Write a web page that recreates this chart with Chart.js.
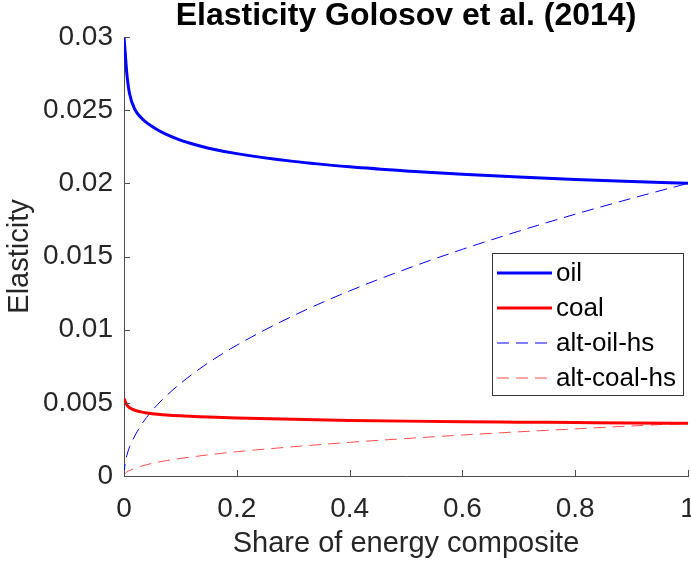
<!DOCTYPE html>
<html>
<head>
<meta charset="utf-8">
<script src="https://cdn.jsdelivr.net/npm/chart.js@4"></script>
<style>
  html, body { margin: 0; padding: 0; background: #fff; }
  #wrap { width: 691px; height: 567px; }
</style>
</head>
<body>
<div id="wrap"><canvas id="chart" width="691" height="567"></canvas></div>
<script>
// share of energy composite (x)
const shares = [0, 0.002, 0.005, 0.01, 0.02, 0.03, 0.04, 0.05, 0.06, 0.075, 0.1, 0.125, 0.15, 0.2, 0.3, 0.4, 0.5, 0.6, 0.7, 0.8, 0.9, 1];

const oil = [0.0300, 0.0290, 0.0275, 0.0261, 0.0250, 0.0245, 0.02415, 0.02388, 0.02364, 0.02334, 0.02295, 0.02265, 0.0224, 0.02203, 0.0215, 0.02113, 0.02085, 0.02062, 0.02043, 0.02027, 0.02013, 0.0200];
const coal = [0.0053, 0.0051, 0.00485, 0.00466, 0.00448, 0.00438, 0.00431, 0.00426, 0.00422, 0.00417, 0.00411, 0.00407, 0.00403, 0.00397, 0.00387, 0.0038, 0.00375, 0.00371, 0.00368, 0.00365, 0.00362, 0.0036];
const altOil = [0, 0.0009, 0.0014, 0.0020, 0.0028, 0.00346, 0.0040, 0.00447, 0.0049, 0.00548, 0.00632, 0.00707, 0.00775, 0.00894, 0.01095, 0.01265, 0.01414, 0.01549, 0.01673, 0.01789, 0.01897, 0.0200];
const altCoal = [0, 0.00017, 0.00027, 0.00038, 0.00054, 0.00066, 0.00077, 0.00087, 0.00095, 0.00105, 0.0012, 0.00133, 0.00145, 0.00166, 0.002, 0.0023, 0.00256, 0.0028, 0.00302, 0.00322, 0.00342, 0.0036];

const xTickLabels = ['0', '0.2', '0.4', '0.6', '0.8', '1'];
const yTickLabels = ['0', '0.005', '0.01', '0.015', '0.02', '0.025', '0.03'];

const pts = ys => shares.map((x, i) => ({ x: x, y: ys[i] }));
const FONT = "'Liberation Sans', Arial, Helvetica, sans-serif";
const AXIS = '#4d4d4d';
const TXT = '#262626';

// MATLAB style ticks pointing into the plot
const innerTicks = {
    id: 'innerTicks',
    afterDraw(chart) {
        const c = chart.ctx, a = chart.chartArea;
        const xs = chart.scales.x, ys = chart.scales.y;
        c.save();
        c.strokeStyle = AXIS;
        c.lineWidth = 1;
        c.beginPath();
        xs.ticks.forEach(t => {
            const p = Math.round(xs.getPixelForValue(t.value)) + 0.5;
            c.moveTo(p, a.bottom);
            c.lineTo(p, a.bottom - 6);
        });
        ys.ticks.forEach(t => {
            const p = Math.round(ys.getPixelForValue(t.value)) + 0.5;
            c.moveTo(a.left, p);
            c.lineTo(a.left + 6, p);
        });
        c.stroke();
        c.restore();
    }
};

// legend box inside the axes
const boxLegend = {
    id: 'boxLegend',
    afterDraw(chart) {
        const c = chart.ctx;
        const bx = 492, by = 253, bw = 191, bh = 142;
        c.save();
        c.fillStyle = '#fff';
        c.fillRect(bx, by, bw, bh);
        c.strokeStyle = '#333';
        c.lineWidth = 1;
        c.strokeRect(bx + 0.5, by + 0.5, bw, bh);
        c.font = '26px ' + FONT;
        c.textBaseline = 'middle';
        chart.data.datasets.forEach((ds, i) => {
            const y = by + 20 + i * 35;
            c.strokeStyle = ds.borderColor;
            c.lineWidth = ds.borderWidth;
            c.setLineDash(ds.borderDash || []);
            c.beginPath();
            c.moveTo(bx + 5, y);
            c.lineTo(bx + 60, y);
            c.stroke();
            c.setLineDash([]);
            c.fillStyle = '#000';
            c.fillText(ds.label, bx + 64, y + 1);
        });
        c.restore();
    }
};

new Chart(document.getElementById('chart'), {
    type: 'line',
    data: {
        datasets: [
            { label: 'oil', data: pts(oil), borderColor: '#0000ff', borderWidth: 3 },
            { label: 'coal', data: pts(coal), borderColor: '#ff0000', borderWidth: 3 },
            { label: 'alt-oil-hs', data: pts(altOil), borderColor: '#0000ff', borderWidth: 1, borderDash: [12, 7] },
            { label: 'alt-coal-hs', data: pts(altCoal), borderColor: '#ff4d4d', borderWidth: 1, borderDash: [12, 7] }
        ]
    },
    options: {
        responsive: false,
        animation: false,
        devicePixelRatio: 1,
        parsing: false,
        elements: {
            point: { radius: 0 },
            line: { cubicInterpolationMode: 'monotone', fill: false }
        },
        layout: { padding: { left: 0, right: 3, top: 0, bottom: 0 } },
        scales: {
            x: {
                type: 'linear',
                min: 0,
                max: 1,
                afterFit: s => { s.height = 91; s.paddingLeft = 0; s.paddingRight = 0; },
                afterBuildTicks: s => { s.ticks = xTickLabels.map(v => ({ value: parseFloat(v) })); },
                grid: { display: false, drawTicks: false },
                border: { display: true, color: AXIS, width: 1 },
                ticks: {
                    padding: 16,
                    color: TXT,
                    font: { family: FONT, size: 28 },
                    callback: (v, i) => xTickLabels[i]
                },
                title: {
                    display: true,
                    text: 'Share of energy composite',
                    color: TXT,
                    font: { family: FONT, size: 29 },
                    padding: { top: 0, bottom: 6 }
                }
            },
            y: {
                type: 'linear',
                min: 0,
                max: 0.03,
                afterFit: s => { s.width = 124; s.paddingTop = 0; s.paddingBottom = 0; },
                afterBuildTicks: s => { s.ticks = yTickLabels.map(v => ({ value: parseFloat(v) })); },
                grid: { display: false, drawTicks: false },
                border: { display: true, color: AXIS, width: 1 },
                ticks: {
                    padding: 11,
                    color: TXT,
                    font: { family: FONT, size: 28 },
                    callback: (v, i) => yTickLabels[i]
                },
                title: {
                    display: true,
                    text: 'Elasticity',
                    color: TXT,
                    font: { family: FONT, size: 29 },
                    padding: { top: 3, bottom: 0 }
                }
            }
        },
        plugins: {
            legend: { display: false },
            tooltip: { enabled: false },
            title: {
                display: true,
                text: 'Elasticity Golosov et al. (2014)',
                fullSize: false,
                color: '#000',
                font: { family: FONT, size: 32, weight: 'bold', lineHeight: 1.0 },
                padding: { top: 0, bottom: 5 }
            }
        }
    },
    plugins: [innerTicks, boxLegend]
});
</script>
</body>
</html>
